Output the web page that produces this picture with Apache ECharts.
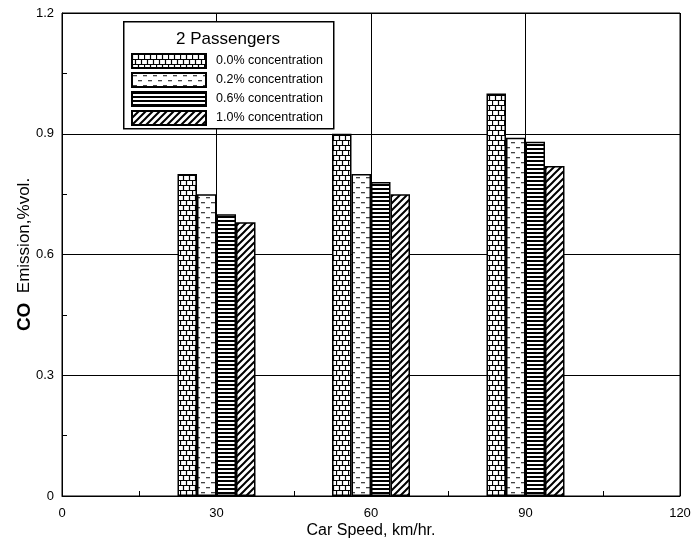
<!DOCTYPE html>
<html>
<head>
<meta charset="utf-8">
<script src="https://cdn.jsdelivr.net/npm/echarts@6/dist/echarts.min.js"></script>
<style>html,body{margin:0;padding:0;background:#fff}#c{width:694px;height:544px}</style>
</head>
<body>
<div id="c"></div>
<script>
var speeds = [30, 60, 90];
var seriesNames = ['0.0% concentration', '0.2% concentration', '0.6% concentration', '1.0% concentration'];
var conc00 = [0.80, 0.90, 1.00];
var conc02 = [0.75, 0.80, 0.89];
var conc06 = [0.70, 0.78, 0.88];
var conc10 = [0.68, 0.75, 0.82];
var xTicks = [0, 30, 60, 90, 120];
var yTicks = [0, 0.3, 0.6, 0.9, 1.2];
var legendTitle = '2 Passengers';

function tile(w, h, draw) {
  var c = document.createElement('canvas');
  c.width = w; c.height = h;
  var g = c.getContext('2d');
  g.fillStyle = '#fff'; g.fillRect(0, 0, w, h);
  draw(g);
  return { image: c, repeat: 'repeat' };
}
var brick = tile(12, 10, function (g) {
  g.strokeStyle = '#000'; g.lineWidth = 1.2;
  g.beginPath();
  g.moveTo(0, 0.5); g.lineTo(12, 0.5);
  g.moveTo(0, 5.5); g.lineTo(12, 5.5);
  g.moveTo(0.5, 0); g.lineTo(0.5, 5.5);
  g.moveTo(6.5, 0); g.lineTo(6.5, 5.5);
  g.moveTo(3.5, 5.5); g.lineTo(3.5, 10);
  g.moveTo(9.5, 5.5); g.lineTo(9.5, 10);
  g.stroke();
});
var dashed = tile(10, 10, function (g) {
  g.fillStyle = '#444';
  g.fillRect(1, 2, 4, 1.3);
  g.fillRect(6, 7, 4, 1.3);
});
var stripes = tile(4, 4, function (g) {
  g.fillStyle = '#000';
  g.fillRect(0, 0, 4, 2);
});
var diag = tile(7, 7, function (g) {
  g.strokeStyle = '#000'; g.lineWidth = 2;
  g.beginPath();
  g.moveTo(-1, 8); g.lineTo(8, -1);
  g.moveTo(-8, 8); g.lineTo(1, -1);
  g.moveTo(6, 8); g.lineTo(15, -1);
  g.stroke();
});
var patterns = [brick, dashed, stripes, diag];
var values = [conc00, conc02, conc06, conc10];

var series = seriesNames.map(function (name, i) {
  return {
    name: name,
    type: 'bar',
    barWidth: 19.5,
    barGap: '0%',
    itemStyle: { color: patterns[i], borderColor: '#000', borderWidth: 1.5 },
    emphasis: { disabled: true },
    data: speeds.map(function (s, j) { return [s, values[i][j]]; })
  };
});

var chart = echarts.init(document.getElementById('c'), null, { renderer: 'canvas' });
chart.setOption({
  animation: false,
  backgroundColor: '#fff',
  textStyle: { fontFamily: 'Liberation Sans, Arial, sans-serif' },
  grid: { left: 62, right: 14, top: 13, bottom: 44, show: true, borderColor: '#000', borderWidth: 1, containLabel: false },
  xAxis: {
    type: 'value', min: xTicks[0], max: xTicks[xTicks.length - 1], interval: 30,
    name: 'Car Speed, km/hr.', nameLocation: 'middle', nameGap: 27, nameMoveOverlap: false,
    nameTextStyle: { fontSize: 16, color: '#000', fontFamily: 'Liberation Sans' },
    axisLine: { lineStyle: { color: '#000', width: 1 } },
    axisTick: { inside: true, length: 5, lineStyle: { color: '#000' } },
    minorTick: { show: true, splitNumber: 2, length: 5, lineStyle: { color: '#000' } },
    splitLine: { show: true, lineStyle: { color: '#000', width: 1 } },
    axisLabel: { fontSize: 13, color: '#000', margin: 11, fontFamily: 'Liberation Sans' }
  },
  yAxis: {
    type: 'value', min: yTicks[0], max: yTicks[yTicks.length - 1], interval: 0.3,
    name: '{b|CO}  Emission,%vol.', nameLocation: 'middle', nameGap: 28, nameRotate: 90, nameMoveOverlap: false,
    nameTextStyle: { fontSize: 17, color: '#000', fontFamily: 'Liberation Sans',
      rich: { b: { fontSize: 19, fontWeight: 'bold', color: '#000', fontFamily: 'Liberation Sans' } } },
    axisLine: { lineStyle: { color: '#000', width: 1 } },
    axisTick: { inside: true, length: 5, lineStyle: { color: '#000' } },
    minorTick: { show: true, splitNumber: 2, length: 5, lineStyle: { color: '#000' } },
    splitLine: { show: true, lineStyle: { color: '#000', width: 1 } },
    axisLabel: { fontSize: 13, color: '#000', margin: 8, fontFamily: 'Liberation Sans',
      formatter: function (v) { return v === 0 ? '0' : v.toFixed(1); } }
  },
  legend: {
    orient: 'vertical', left: 131, top: 53, itemWidth: 74, itemHeight: 14, itemGap: 3,
    padding: 0, z: 20,
    icon: 'rect', selectedMode: false,
    textStyle: { fontSize: 12.5, color: '#000', padding: [0, 0, 0, 5], fontFamily: 'Liberation Sans' },
    data: seriesNames
  },
  graphic: [
    { type: 'rect', left: 123, top: 21, z: 5, shape: { width: 210, height: 107 },
      style: { fill: '#fff', stroke: '#000', lineWidth: 1.5 } },
    { type: 'text', left: 176, top: 31, z: 6,
      style: { text: legendTitle, fontSize: 17, fill: '#000', fontFamily: 'Liberation Sans' } }
  ],
  series: series
});
</script>
</body>
</html>
